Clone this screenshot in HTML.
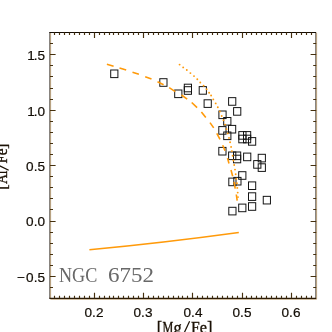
<!DOCTYPE html>
<html><head><meta charset="utf-8"><style>
html,body{margin:0;padding:0;background:#fff;}
body{will-change:transform;width:332px;height:332px;position:relative;overflow:hidden;font-family:"Liberation Sans",sans-serif;}
.t{position:absolute;white-space:nowrap;color:#120c04;line-height:1;}
.xt{font-size:13px;transform:scaleX(1.045);transform-origin:center;text-align:center;width:40px;top:306.2px;-webkit-text-stroke:0.2px #120c04;}
.yt{font-size:13px;transform:scaleX(1.045);transform-origin:right center;text-align:right;width:40px;-webkit-text-stroke:0.2px #120c04;}
.ser{font-family:"Liberation Serif",serif;}
</style></head><body>
<svg width="332" height="332" viewBox="0 0 332 332" style="position:absolute;left:0;top:0"><path d="M50.6 32.75 V299.2 H316.6 V32.75" fill="none" stroke="#b89e78" stroke-width="1"/><path d="M49.6 32.45 V298.3 M315.6 32.45 V298.3" fill="none" stroke="#7c7872" stroke-width="1"/><path d="M49.300000000000004 32.45 H316.1" fill="none" stroke="#140c02" stroke-width="1.05"/><path d="M49.300000000000004 298.3 H316.1" fill="none" stroke="#2a1a06" stroke-width="1.15"/><path d="M54.50 298.3 v-2.6 M54.50 32.45 v2.6 M59.50 298.3 v-2.6 M59.50 32.45 v2.6 M64.50 298.3 v-2.6 M64.50 32.45 v2.6 M69.50 298.3 v-2.6 M69.50 32.45 v2.6 M74.50 298.3 v-2.6 M74.50 32.45 v2.6 M79.50 298.3 v-2.6 M79.50 32.45 v2.6 M84.50 298.3 v-2.6 M84.50 32.45 v2.6 M89.50 298.3 v-2.6 M89.50 32.45 v2.6 M94.50 298.3 v-5.6 M94.50 32.45 v5.6 M99.50 298.3 v-2.6 M99.50 32.45 v2.6 M104.50 298.3 v-2.6 M104.50 32.45 v2.6 M109.50 298.3 v-2.6 M109.50 32.45 v2.6 M113.50 298.3 v-2.6 M113.50 32.45 v2.6 M118.50 298.3 v-2.6 M118.50 32.45 v2.6 M123.50 298.3 v-2.6 M123.50 32.45 v2.6 M128.50 298.3 v-2.6 M128.50 32.45 v2.6 M133.50 298.3 v-2.6 M133.50 32.45 v2.6 M138.50 298.3 v-2.6 M138.50 32.45 v2.6 M143.50 298.3 v-5.6 M143.50 32.45 v5.6 M148.50 298.3 v-2.6 M148.50 32.45 v2.6 M153.50 298.3 v-2.6 M153.50 32.45 v2.6 M158.50 298.3 v-2.6 M158.50 32.45 v2.6 M163.50 298.3 v-2.6 M163.50 32.45 v2.6 M168.50 298.3 v-2.6 M168.50 32.45 v2.6 M173.50 298.3 v-2.6 M173.50 32.45 v2.6 M178.50 298.3 v-2.6 M178.50 32.45 v2.6 M182.50 298.3 v-2.6 M182.50 32.45 v2.6 M187.50 298.3 v-2.6 M187.50 32.45 v2.6 M192.50 298.3 v-5.6 M192.50 32.45 v5.6 M197.50 298.3 v-2.6 M197.50 32.45 v2.6 M202.50 298.3 v-2.6 M202.50 32.45 v2.6 M207.50 298.3 v-2.6 M207.50 32.45 v2.6 M212.50 298.3 v-2.6 M212.50 32.45 v2.6 M217.50 298.3 v-2.6 M217.50 32.45 v2.6 M222.50 298.3 v-2.6 M222.50 32.45 v2.6 M227.50 298.3 v-2.6 M227.50 32.45 v2.6 M232.50 298.3 v-2.6 M232.50 32.45 v2.6 M237.50 298.3 v-2.6 M237.50 32.45 v2.6 M242.50 298.3 v-5.6 M242.50 32.45 v5.6 M246.50 298.3 v-2.6 M246.50 32.45 v2.6 M251.50 298.3 v-2.6 M251.50 32.45 v2.6 M256.50 298.3 v-2.6 M256.50 32.45 v2.6 M261.50 298.3 v-2.6 M261.50 32.45 v2.6 M266.50 298.3 v-2.6 M266.50 32.45 v2.6 M271.50 298.3 v-2.6 M271.50 32.45 v2.6 M276.50 298.3 v-2.6 M276.50 32.45 v2.6 M281.50 298.3 v-2.6 M281.50 32.45 v2.6 M286.50 298.3 v-2.6 M286.50 32.45 v2.6 M291.50 298.3 v-5.6 M291.50 32.45 v5.6 M296.50 298.3 v-2.6 M296.50 32.45 v2.6 M301.50 298.3 v-2.6 M301.50 32.45 v2.6 M306.50 298.3 v-2.6 M306.50 32.45 v2.6 M311.50 298.3 v-2.6 M311.50 32.45 v2.6 M50.0 287.50 h3.0 M316.20000000000005 287.50 h-3.0 M50.0 276.50 h5.6 M316.20000000000005 276.50 h-5.6 M50.0 265.50 h3.0 M316.20000000000005 265.50 h-3.0 M50.0 254.50 h3.0 M316.20000000000005 254.50 h-3.0 M50.0 243.50 h3.0 M316.20000000000005 243.50 h-3.0 M50.0 232.50 h3.0 M316.20000000000005 232.50 h-3.0 M50.0 221.50 h5.6 M316.20000000000005 221.50 h-5.6 M50.0 209.50 h3.0 M316.20000000000005 209.50 h-3.0 M50.0 198.50 h3.0 M316.20000000000005 198.50 h-3.0 M50.0 187.50 h3.0 M316.20000000000005 187.50 h-3.0 M50.0 176.50 h3.0 M316.20000000000005 176.50 h-3.0 M50.0 165.50 h5.6 M316.20000000000005 165.50 h-5.6 M50.0 154.50 h3.0 M316.20000000000005 154.50 h-3.0 M50.0 143.50 h3.0 M316.20000000000005 143.50 h-3.0 M50.0 132.50 h3.0 M316.20000000000005 132.50 h-3.0 M50.0 121.50 h3.0 M316.20000000000005 121.50 h-3.0 M50.0 110.50 h5.6 M316.20000000000005 110.50 h-5.6 M50.0 99.50 h3.0 M316.20000000000005 99.50 h-3.0 M50.0 88.50 h3.0 M316.20000000000005 88.50 h-3.0 M50.0 76.50 h3.0 M316.20000000000005 76.50 h-3.0 M50.0 65.50 h3.0 M316.20000000000005 65.50 h-3.0 M50.0 54.50 h5.6 M316.20000000000005 54.50 h-5.6 M50.0 43.50 h3.0 M316.20000000000005 43.50 h-3.0" stroke="#45300e" stroke-width="1.15" fill="none"/><rect x="110.70" y="70.00" width="7.2" height="7.6" fill="none" stroke="#141414" stroke-width="1.0"/><rect x="159.80" y="78.70" width="7.2" height="7.6" fill="none" stroke="#141414" stroke-width="1.0"/><rect x="174.70" y="90.00" width="7.2" height="7.6" fill="none" stroke="#141414" stroke-width="1.0"/><rect x="184.30" y="84.20" width="7.2" height="7.6" fill="none" stroke="#141414" stroke-width="1.0"/><rect x="184.30" y="86.70" width="7.2" height="7.6" fill="none" stroke="#141414" stroke-width="1.0"/><rect x="199.20" y="86.60" width="7.2" height="7.6" fill="none" stroke="#141414" stroke-width="1.0"/><rect x="204.10" y="99.80" width="7.2" height="7.6" fill="none" stroke="#141414" stroke-width="1.0"/><rect x="228.60" y="97.65" width="7.2" height="7.6" fill="none" stroke="#141414" stroke-width="1.0"/><rect x="233.60" y="107.60" width="7.2" height="7.6" fill="none" stroke="#141414" stroke-width="1.0"/><rect x="218.90" y="111.00" width="7.2" height="7.6" fill="none" stroke="#141414" stroke-width="1.0"/><rect x="223.70" y="117.50" width="7.2" height="7.6" fill="none" stroke="#141414" stroke-width="1.0"/><rect x="218.80" y="126.60" width="7.2" height="7.6" fill="none" stroke="#141414" stroke-width="1.0"/><rect x="228.50" y="125.40" width="7.2" height="7.6" fill="none" stroke="#141414" stroke-width="1.0"/><rect x="223.70" y="132.00" width="7.2" height="7.6" fill="none" stroke="#141414" stroke-width="1.0"/><rect x="238.80" y="131.60" width="7.2" height="7.6" fill="none" stroke="#141414" stroke-width="1.0"/><rect x="243.50" y="131.60" width="7.2" height="7.6" fill="none" stroke="#141414" stroke-width="1.0"/><rect x="238.80" y="135.20" width="7.2" height="7.6" fill="none" stroke="#141414" stroke-width="1.0"/><rect x="243.50" y="135.20" width="7.2" height="7.6" fill="none" stroke="#141414" stroke-width="1.0"/><rect x="248.50" y="137.60" width="7.2" height="7.6" fill="none" stroke="#141414" stroke-width="1.0"/><rect x="218.80" y="147.40" width="7.2" height="7.6" fill="none" stroke="#141414" stroke-width="1.0"/><rect x="228.60" y="152.00" width="7.2" height="7.6" fill="none" stroke="#141414" stroke-width="1.0"/><rect x="233.50" y="152.00" width="7.2" height="7.6" fill="none" stroke="#141414" stroke-width="1.0"/><rect x="233.50" y="155.20" width="7.2" height="7.6" fill="none" stroke="#141414" stroke-width="1.0"/><rect x="243.60" y="153.10" width="7.2" height="7.6" fill="none" stroke="#141414" stroke-width="1.0"/><rect x="258.20" y="154.30" width="7.2" height="7.6" fill="none" stroke="#141414" stroke-width="1.0"/><rect x="253.70" y="160.60" width="7.2" height="7.6" fill="none" stroke="#141414" stroke-width="1.0"/><rect x="258.20" y="163.80" width="7.2" height="7.6" fill="none" stroke="#141414" stroke-width="1.0"/><rect x="238.70" y="171.70" width="7.2" height="7.6" fill="none" stroke="#141414" stroke-width="1.0"/><rect x="228.80" y="178.10" width="7.2" height="7.6" fill="none" stroke="#141414" stroke-width="1.0"/><rect x="233.80" y="177.40" width="7.2" height="7.6" fill="none" stroke="#141414" stroke-width="1.0"/><rect x="248.50" y="181.90" width="7.2" height="7.6" fill="none" stroke="#141414" stroke-width="1.0"/><rect x="248.50" y="192.80" width="7.2" height="7.6" fill="none" stroke="#141414" stroke-width="1.0"/><rect x="263.25" y="196.35" width="7.2" height="7.6" fill="none" stroke="#141414" stroke-width="1.0"/><rect x="248.50" y="202.70" width="7.2" height="7.6" fill="none" stroke="#141414" stroke-width="1.0"/><rect x="238.70" y="204.10" width="7.2" height="7.6" fill="none" stroke="#141414" stroke-width="1.0"/><rect x="228.80" y="207.30" width="7.2" height="7.6" fill="none" stroke="#141414" stroke-width="1.0"/><path d="M89.4 249.8 Q 165 242.6 238.8 232.5" stroke="#ff9a0a" stroke-width="1.5" fill="none"/><path d="M106.9 64.35 L113.6 66.2 M119.5 68 L126.2 70 M132.5 72.2 L138.9 74.3 M145.2 76.7 L151.5 79 M157.5 81.7 L163.6 84.8 M169.2 87.7 L175.3 91.6 M181.5 95 L187.2 99.2 M191.7 102.5 L197.1 107.7 M201.4 111.9 L205.8 117.4 M210 122.6 L213.7 127.9 M216.8 133.4 L220 139.3 M222.7 145.2 L225 150.8 M227.5 158.1 L229 163.5 M231 170 L232.7 176.3 M234.1 181.8 L235.2 188.7 M236.3 194.5 L237.2 200.7" stroke="#ff9a0a" stroke-width="1.6" fill="none"/><circle cx="179.6" cy="64.6" r="0.95" fill="#ff9a0a"/><circle cx="183.2" cy="67.4" r="0.95" fill="#ff9a0a"/><circle cx="186.8" cy="70" r="0.95" fill="#ff9a0a"/><circle cx="190.4" cy="73.1" r="0.95" fill="#ff9a0a"/><circle cx="194" cy="76.1" r="0.95" fill="#ff9a0a"/><circle cx="197.3" cy="79.3" r="0.95" fill="#ff9a0a"/><circle cx="200.3" cy="82.5" r="0.95" fill="#ff9a0a"/><circle cx="203.6" cy="85.7" r="0.95" fill="#ff9a0a"/><circle cx="206.6" cy="89.3" r="0.95" fill="#ff9a0a"/><circle cx="209.1" cy="92.8" r="0.95" fill="#ff9a0a"/><circle cx="211.1" cy="95.5" r="0.95" fill="#ff9a0a"/><circle cx="213.3" cy="99.4" r="0.95" fill="#ff9a0a"/><circle cx="215.7" cy="103.4" r="0.95" fill="#ff9a0a"/><circle cx="217.8" cy="107.3" r="0.95" fill="#ff9a0a"/><circle cx="219.9" cy="111.5" r="0.95" fill="#ff9a0a"/><circle cx="221.7" cy="116" r="0.95" fill="#ff9a0a"/><circle cx="223.5" cy="120.3" r="0.95" fill="#ff9a0a"/><circle cx="225.1" cy="124.6" r="0.95" fill="#ff9a0a"/><circle cx="226.5" cy="129.1" r="0.95" fill="#ff9a0a"/><circle cx="227.8" cy="133.4" r="0.95" fill="#ff9a0a"/><circle cx="229" cy="137.9" r="0.95" fill="#ff9a0a"/><circle cx="230.1" cy="142.3" r="0.95" fill="#ff9a0a"/><circle cx="231.1" cy="146.9" r="0.95" fill="#ff9a0a"/><circle cx="231.9" cy="151.1" r="0.95" fill="#ff9a0a"/><circle cx="232.6" cy="155.7" r="0.95" fill="#ff9a0a"/><circle cx="233.4" cy="160.5" r="0.95" fill="#ff9a0a"/><circle cx="234.2" cy="165" r="0.95" fill="#ff9a0a"/><circle cx="235.0" cy="169.6" r="0.95" fill="#ff9a0a"/><circle cx="235.7" cy="174.2" r="0.95" fill="#ff9a0a"/><circle cx="236.3" cy="178.7" r="0.95" fill="#ff9a0a"/><circle cx="236.9" cy="183.2" r="0.95" fill="#ff9a0a"/><circle cx="237.3" cy="187.9" r="0.95" fill="#ff9a0a"/><circle cx="237.7" cy="192.6" r="0.95" fill="#ff9a0a"/><circle cx="238.0" cy="197.1" r="0.95" fill="#ff9a0a"/></svg>
<div class="t xt" style="left:74.1px">0.2</div>
<div class="t xt" style="left:123.34999999999998px">0.3</div>
<div class="t xt" style="left:172.60000000000002px">0.4</div>
<div class="t xt" style="left:221.85000000000002px">0.5</div>
<div class="t xt" style="left:271.09999999999997px">0.6</div>
<div class="t yt" style="left:5.3px;top:49.10000000000001px"><span style="letter-spacing:-1.2px">1</span>.5</div>
<div class="t yt" style="left:5.3px;top:104.5px"><span style="letter-spacing:-1.2px">1</span>.0</div>
<div class="t yt" style="left:5.3px;top:159.9px">0.5</div>
<div class="t yt" style="left:5.3px;top:215.3px">0.0</div>
<div class="t yt" style="left:5.3px;top:270.7px"><span style="letter-spacing:1.2px">&#8722;</span>0.5</div>
<div class="t ser" style="left:59.2px;top:265.0px;font-size:20.5px;color:#686868;transform:scaleX(0.885);transform-origin:left center;">NGC</div>
<div class="t ser" style="left:107.9px;top:265.0px;font-size:20.5px;color:#686868;transform:scaleX(1.12);transform-origin:left center;">6752</div>
<svg width="332" height="332" viewBox="0 0 332 332" style="position:absolute;left:0;top:0" font-family="Liberation Serif" font-size="16" fill="#1c1206" stroke="#1c1206" stroke-width="0.35">
<text x="156.8" y="332.8" textLength="5.40" lengthAdjust="spacingAndGlyphs">[</text><text x="162.6" y="332.8" textLength="10.80" lengthAdjust="spacingAndGlyphs">M</text><text x="173.6" y="332.8" textLength="8.20" lengthAdjust="spacingAndGlyphs">g</text><path d="M183.5 334.3 L189.6 321.3" stroke-width="1.25" fill="none"/><text x="190.9" y="332.8" textLength="8.70" lengthAdjust="spacingAndGlyphs">F</text><text x="199.8" y="332.8" textLength="7.20" lengthAdjust="spacingAndGlyphs">e</text><text x="206.9" y="332.8" textLength="5.40" lengthAdjust="spacingAndGlyphs">]</text>
<g transform="translate(7.2 188.9) rotate(-90)"><text x="-0.9" y="0" textLength="5.40" lengthAdjust="spacingAndGlyphs">[</text><text x="5.0" y="0" textLength="10.00" lengthAdjust="spacingAndGlyphs">A</text><text x="14.6" y="0" textLength="3.60" lengthAdjust="spacingAndGlyphs">l</text><path d="M18.6 1.5 L25.0 -11.5" stroke-width="1.25" fill="none"/><text x="25.5" y="0" textLength="8.00" lengthAdjust="spacingAndGlyphs">F</text><text x="33.6" y="0" textLength="6.80" lengthAdjust="spacingAndGlyphs">e</text><text x="40.0" y="0" textLength="5.40" lengthAdjust="spacingAndGlyphs">]</text></g>
</svg>
</body></html>
